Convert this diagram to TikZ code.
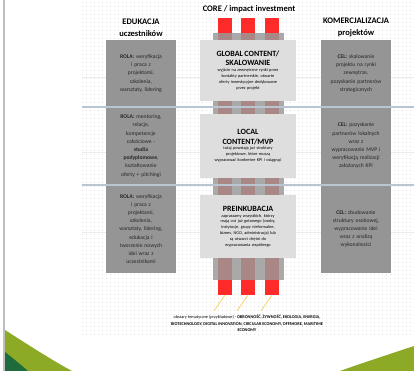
\documentclass[tikz,border=0pt]{standalone}
\usepackage{fontspec}
\setmainfont{Carlito}
\usetikzlibrary{positioning}
\definecolor{sidegray}{HTML}{959595}
\definecolor{coregray}{HTML}{DEDEDE}
\definecolor{bandgray}{HTML}{A9A9A9}
\definecolor{pillar}{HTML}{A98787}
\definecolor{corered}{HTML}{FF2A2A}
\definecolor{sepblue}{HTML}{B9C5D1}
\definecolor{olive}{HTML}{8DAA26}
\definecolor{darkgreen}{HTML}{1E6B3C}
\definecolor{ray}{HTML}{F7D774}
\newcommand{\sidenode}[4]{\node(#1)[side,minimum height=#3] at #2 {#4}}
\newcommand{\corenode}[4]{\node(#1)[core,minimum height=#3] at #2 {#4}}
\newcommand{\coretitle}[1]{{\fontsize{8}{9.2}\selectfont\bfseries #1\par}}

\begin{document}
\begin{tikzpicture}[
        x=1pt, y=-1pt,
        every node/.style={inner sep=0pt, outer sep=0pt},
        side/.style={rectangle, fill=sidegray, minimum width=70pt,
                     text width=64pt, align=center, text=black!85,
                     font=\fontsize{5.6}{8.2}\selectfont},
        core/.style={rectangle, fill=coregray, minimum width=96pt,
                     text width=92pt, align=center,
                     font=\fontsize{4.3}{5.8}\selectfont},
        head/.style={align=center, font=\fontsize{8.5}{12}\selectfont\bfseries},
        redsq/.style={rectangle, fill=corered, minimum width=14.5pt,
                      minimum height=15pt},
        sep/.style={sepblue, line width=1.3pt},
        faint/.style={black!8, line width=0.8pt},
        griddot/.style={black!12, line width=0.4pt, dash pattern=on 0.4pt off 3.6pt}
      ]
      \useasboundingbox (0,0) rectangle (414,371);
      % background grid and frame
      \foreach \y in {2,6,...,334} \draw[griddot] (82,\y) -- (414,\y);
      \draw[black!25, line width=1.5pt] (4,0) -- (4,371);
      \foreach \y in {77,152,232} \draw[faint] (82,\y) -- (414,\y);

      % core pillars
      \fill[bandgray] (213,33) rectangle (284,280);
      \foreach \x in {225,248,272} \fill[pillar] (\x-7.25,33) rectangle (\x+7.25,280);

      % left column
      \sidenode{edu1}{(141,73.5)}{67pt}{\textbf{ROLA:} weryfikacja\\i praca z\\projektami,\\szkolenia,\\warsztaty, lidering};
      \sidenode{edu2}{(141,146)}{78pt}{\textbf{ROLA:} mentoring,\\relacje,\\kompetencje\\całościowe -\\\textbf{studia}\\\textbf{podyplomowe},\\kształtowanie\\oferty + pitchingi};
      \sidenode{edu3}{(141,229)}{88pt}{\textbf{ROLA:} weryfikacja\\i praca z\\projektami,\\szkolenia,\\warsztaty, lidering,\\edukacja i\\tworzenie nowych\\idei wraz z\\uczestnikami};
      \node(eduhead)[head, above=3pt of edu1] {EDUKACJA\\uczestników};

      % right column
      \sidenode{kom1}{(356,73.5)}{67pt}{\textbf{CEL:} skalowanie\\projektu na rynki\\zewnętrze,\\pozyskanie partnerów\\strategicznych};
      \sidenode{kom2}{(356,146)}{78pt}{\textbf{CEL:} pozyskanie\\partnerów lokalnych\\wraz z\\wypracowanie MVP i\\weryfikacją realizacji\\założonych KPI};
      \sidenode{kom3}{(356,229)}{88pt}{\textbf{CEL:} zbudowanie\\struktury osobowej,\\wypracowanie idei\\wraz z analizą\\wykonalności};
      \node(komhead)[head, above=3pt of kom1] {KOMERCJALIZACJA\\projektów};

      % core column
      \corenode{global}{(248,70.5)}{61pt}{\coretitle{GLOBAL CONTENT/\\SKALOWANIE}wyjście na zewnętrzne rynki przez\\kontakty partnerskie, otwarte\\oferty inwestycyjne dedykowane\\przez projekt};
      \corenode{local}{(248,146)}{64pt}{\coretitle{LOCAL\\CONTENT/MVP}tutaj powstają już struktury\\projektowe, które muszą\\wypracować konkretne KPI i osiągnąć};
      \corenode{preinc}{(248,226.5)}{63pt}{\coretitle{PREINKUBACJA}zapraszamy wszystkich, którzy\\mają coś już gotowego (osoby,\\instytucje, grupy nieformalne,\\biznes, NGO, administracja) lub\\są otwarci chętni do\\wypracowania wspólnego};
      \node(corehead)[head] at (249,9) {CORE / impact investment};

      \draw[sep] (82,107) -- (414,107);
      \draw[sep] (82,185) -- (414,185);

      % red pillar ends and rays
      \foreach \x/\n in {225/1,248/2,272/3} {
        \node(rtop\n)[redsq] at (\x,25.5) {};
        \node(rbot\n)[redsq] at (\x,287.5) {};
        \coordinate (ray\n) at (\x-11,311);
        \draw[ray, line width=0.9pt] (rbot\n.south) -- (ray\n);
      }

      \node(areas)[align=center, font=\fontsize{4.3}{6.3}\selectfont] at (247,323.5)
        {obszary tematyczne (przykładowe) - \textbf{OBRONNOŚĆ, ŻYWNOŚĆ, EKOLOGIA, ENERGIA,}\\
         \textbf{BIOTECHNOLOGY, DIGITAL INNOVATION, CIRCULAR ECONOMY, OFFSHORE, MARITIME}\\
         \textbf{ECONOMY}};

      % green corners
      \fill[olive] (5,330) .. controls (30,346) and (50,359) .. (72,371) -- (5,371) -- cycle;
      \fill[darkgreen] (5,352) .. controls (14,359) and (21,365) .. (28,371) -- (5,371) -- cycle;
      \fill[olive] (340,371) .. controls (365,362) and (390,354) .. (414,346) -- (414,371) -- cycle;
    \end{tikzpicture}
\end{document}
